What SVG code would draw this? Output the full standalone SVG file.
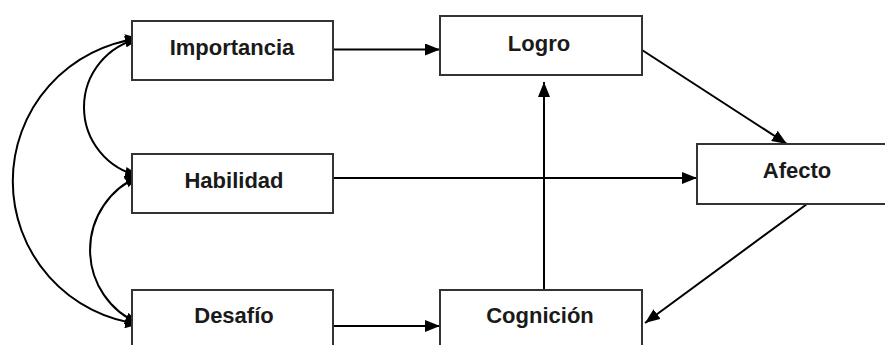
<svg xmlns="http://www.w3.org/2000/svg" width="885" height="345" viewBox="0 0 885 345">
<style>
.box{fill:#fff;stroke:#333;stroke-width:2}
.lbl{font-family:"Liberation Sans",Arial,sans-serif;font-weight:bold;font-size:22px;fill:#1a1a1a;text-anchor:middle}
.edge{fill:none;stroke:#000;stroke-width:2;marker-end:url(#ah)}
.dbl{fill:none;stroke:#000;stroke-width:2;marker-start:url(#ahs);marker-end:url(#ah)}
</style>
<defs>
<marker id="ah" markerUnits="userSpaceOnUse" markerWidth="15" markerHeight="12" refX="15" refY="6" orient="auto"><path d="M0,0 L15,6 L0,12 z" fill="#000"/></marker>
<marker id="ahs" markerUnits="userSpaceOnUse" markerWidth="15" markerHeight="12" refX="15" refY="6" orient="auto-start-reverse"><path d="M0,0 L15,6 L0,12 z" fill="#000"/></marker>
</defs>
<rect width="885" height="345" fill="#fff"/>
<g id="connectors">
<path class="edge" d="M333,49.5 L440,49.5"/>
<path class="edge" d="M333,178 L697,178"/>
<path class="edge" d="M333,326 L440,326"/>
<path class="edge" d="M544,290 L544,82"/>
<path class="edge" d="M642,50 L787,144"/>
<path class="edge" d="M807,204 L645,323"/>
<path class="dbl" d="M140,38.5 A143.7,143.7 0 0 0 140,324"/>
<path class="dbl" d="M140,38.5 A70.2,70.2 0 0 0 140,176"/>
<path class="dbl" d="M140,176 A79.8,79.8 0 0 0 140,324"/>
</g>
<g id="importancia"><rect class="box" x="132" y="21" width="201" height="59"/><text class="lbl" x="232" y="55">Importancia</text></g>
<g id="habilidad"><rect class="box" x="132" y="154" width="201" height="59"/><text class="lbl" x="234" y="188">Habilidad</text></g>
<g id="desafio"><rect class="box" x="132" y="290" width="201" height="60"/><text class="lbl" x="234" y="323">Desafío</text></g>
<g id="logro"><rect class="box" x="440" y="16" width="202" height="59"/><text class="lbl" x="539" y="51">Logro</text></g>
<g id="cognicion"><rect class="box" x="440" y="290" width="202" height="60"/><text class="lbl" x="540" y="323">Cognición</text></g>
<g id="afecto"><rect class="box" x="697" y="144" width="201" height="60"/><text class="lbl" x="797" y="178">Afecto</text></g>
</svg>
